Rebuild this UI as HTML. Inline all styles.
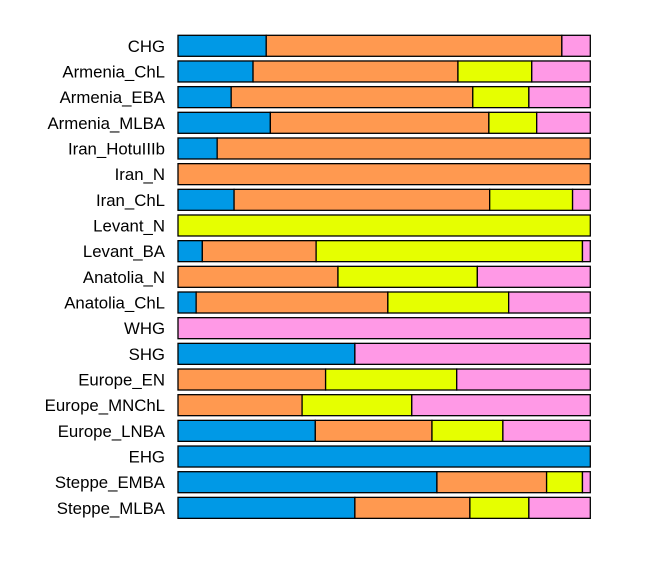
<!DOCTYPE html>
<html><head><meta charset="utf-8"><style>
html,body{margin:0;padding:0;background:#fff;}
svg text{font-family:"Liberation Sans",Arial,sans-serif;font-size:16.8px;fill:#000;}
</style></head><body>
<svg id="chart" width="668" height="574" xmlns="http://www.w3.org/2000/svg"></svg>
<script>
const populations = ["CHG","Armenia_ChL","Armenia_EBA","Armenia_MLBA","Iran_HotuIIIb","Iran_N","Iran_ChL","Levant_N","Levant_BA","Anatolia_N","Anatolia_ChL","WHG","SHG","Europe_EN","Europe_MNChL","Europe_LNBA","EHG","Steppe_EMBA","Steppe_MLBA"];
const blueValues   = [0.214,0.182,0.129,0.224,0.095,0,0.136,0,0.059,0,0.044,0,0.429,0,0,0.333,1,0.628,0.429];
const orangeValues = [0.717,0.497,0.586,0.530,0.905,1,0.620,0,0.276,0.388,0.465,0,0,0.358,0.301,0.283,0,0.266,0.279];
const yellowValues = [0,0.179,0.136,0.116,0,0,0.201,1,0.646,0.338,0.293,0,0,0.318,0.266,0.172,0,0.087,0.143];
const pinkValues   = [0.069,0.142,0.149,0.130,0,0,0.043,0,0.019,0.274,0.198,1,0.571,0.324,0.433,0.212,0,0.019,0.149];
const seriesNames = ["blue","orange","yellow","pink"];
const seriesColors = ["#0099E6","#FF9950","#E6FF00","#FF99E6"];
const seriesValues = [blueValues,orangeValues,yellowValues,pinkValues];

const svg = document.getElementById('chart');
const NS = "http://www.w3.org/2000/svg";
const x0 = 178, x1 = 590.3, top0 = 35.3, pitch = 25.67, barH = 21;
const xScale = v => x0 + v*(x1-x0);
const yScale = i => top0 + i*pitch;

populations.forEach((pop,i)=>{
  const y = yScale(i);
  const t = document.createElementNS(NS,'text');
  t.setAttribute('x',165); t.setAttribute('y',y+barH/2+6);
  t.setAttribute('text-anchor','end');
  t.textContent = pop;
  
  
  svg.appendChild(t);
  let cum = 0;
  seriesValues.forEach((vals,s)=>{
    const v = vals[i];
    if (v > 0) {
      const r = document.createElementNS(NS,'rect');
      r.setAttribute('x', xScale(cum)); r.setAttribute('y', y);
      r.setAttribute('width', xScale(cum+v)-xScale(cum)); r.setAttribute('height', barH);
      r.setAttribute('fill', seriesColors[s]);
      r.setAttribute('stroke','#000'); r.setAttribute('stroke-width','1.3');
      
      
      svg.appendChild(r);
    }
    cum += v;
  });
});
</script>
</body></html>
